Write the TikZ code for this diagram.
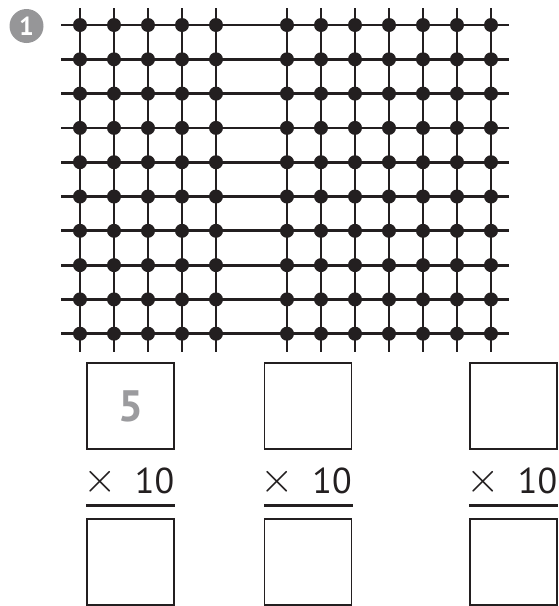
\documentclass[tikz,border=0pt]{standalone}
\usepackage{fontspec}
\setmainfont{PT Sans}
\definecolor{inkblack}{RGB}{35,31,32}
\definecolor{badgegray}{RGB}{150,150,152}
\definecolor{hintgray}{RGB}{155,155,158}
\usetikzlibrary{positioning}
\tikzset{
  gridline/.style={inkblack,line width=2.8pt},
  answerbox/.style={draw=inkblack,line width=1.6pt,minimum width=87pt,minimum height=86pt,inner sep=0pt},
  factor/.style={inkblack,inner sep=0pt,anchor=base west}
}
\newcommand{\timesten}{\makebox[87pt]{%
  \hspace*{-4pt}\raisebox{1pt}{\scalebox{4.3}{\fontsize{10}{12}\selectfont$\times$}}\hfill
  {\fontsize{36}{36}\selectfont 10}}}
\begin{document}
\begin{tikzpicture}[x=1pt,y=-1pt]
  \useasboundingbox (0,0) rectangle (559,606);
  % badge
  \node[circle,fill=badgegray,minimum size=34pt,inner sep=0pt,text=white,
    font=\fontsize{26}{26}\selectfont\bfseries] (badge) at (26.5,26) {1};
  % grid: horizontal lines
  \foreach \r in {0,...,9}
    \draw[gridline] (61,{25+\r*34.3}) -- (509,{25+\r*34.3});
  % grid: vertical lines and dots
  \foreach \c in {80,114,148,182,216,287,321,355,389,423,457,491} {
    \draw[gridline] (\c,8) -- (\c,352);
    \foreach \r in {0,...,9}
      \fill[inkblack] (\c,{25+\r*34.3}) circle (7);
  }
  % top boxes
  \node[answerbox] (top1) at (130.5,406) {};
  \node[answerbox] (top2) at (308,406) {};
  \node[answerbox] (top3) at (513.5,406) {};
  \node[text=hintgray,font=\fontsize{44}{44}\selectfont\bfseries] (hint) at (top1) {5};
  % times ten
  \node[factor] (f1) at (87,493) {\timesten};
  \node[factor] (f2) at (264.5,493) {\timesten};
  \node[factor] (f3) at (470,493) {\timesten};
  \draw[inkblack,line width=2.4pt] (86,505.5) -- (175,505.5);
  \draw[inkblack,line width=2.4pt] (264,505.5) -- (353,505.5);
  \draw[inkblack,line width=2.4pt] (469,505.5) -- (558,505.5);
  % bottom boxes
  \node[answerbox] (bot1) at (130.5,562) {};
  \node[answerbox] (bot2) at (308,562) {};
  \node[answerbox] (bot3) at (513.5,562) {};
\end{tikzpicture}
\end{document}
